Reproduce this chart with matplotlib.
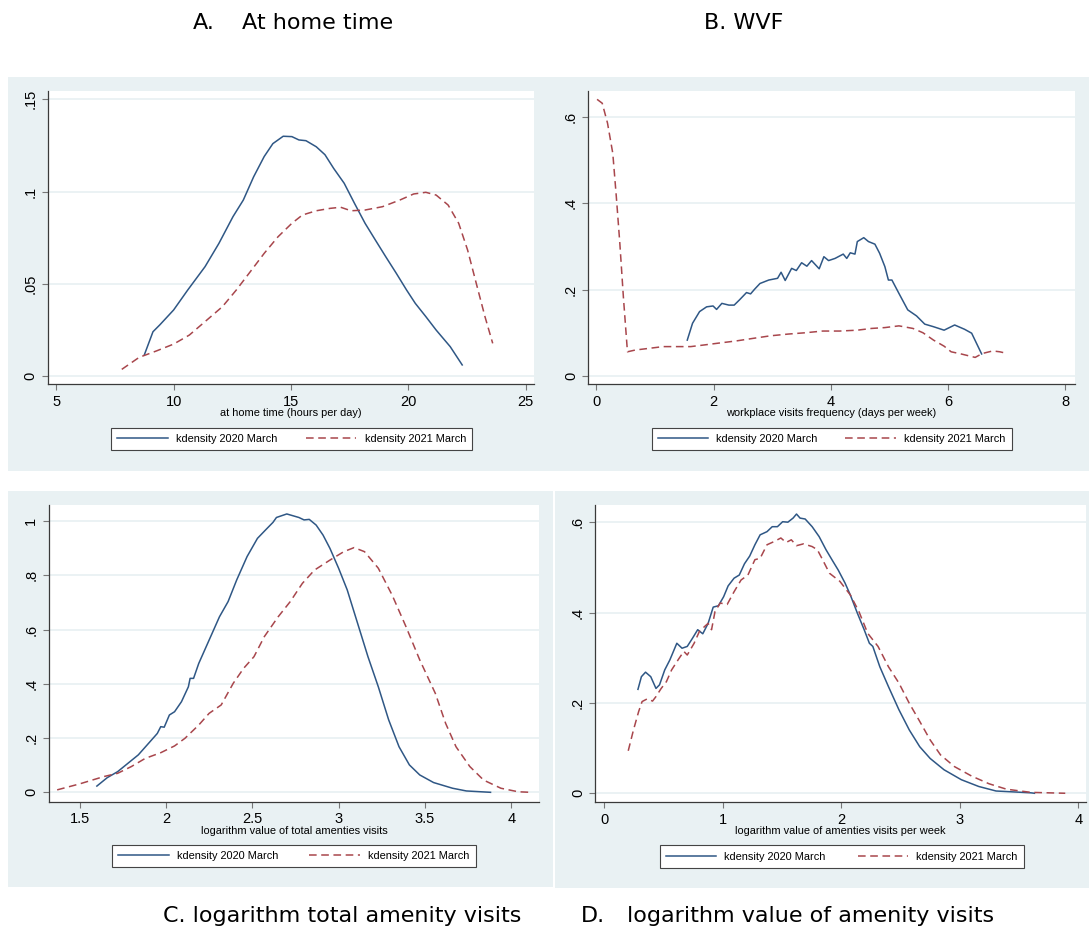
import matplotlib
matplotlib.use("Agg")
import matplotlib.pyplot as plt
from matplotlib.patches import Rectangle
from matplotlib.lines import Line2D

W, H = 1089, 935
BG = '#e9f1f3'
BLUE = '#2f5785'
RED = '#a8464c'

# A. at home time (hours per day)
home_x20 = [8.75, 9.12, 9.41, 10.0, 10.6, 11.34, 11.93, 12.53, 12.97, 13.41, 13.86, 14.23, 14.67,
            15.04, 15.34, 15.64, 16.08, 16.45, 16.82, 17.27, 17.71, 18.16, 18.6, 19.04, 19.49,
            19.93, 20.3, 20.75, 21.19, 21.79, 22.3]
home_y20 = [0.0114, 0.024, 0.0277, 0.0358, 0.0466, 0.0593, 0.0719, 0.0864, 0.0954, 0.108, 0.119,
            0.126, 0.130, 0.1298, 0.128, 0.1276, 0.1243, 0.120, 0.1126, 0.1045, 0.0936, 0.0828,
            0.0737, 0.0647, 0.0557, 0.0466, 0.0394, 0.0322, 0.0249, 0.0159, 0.006]
home_x21 = [7.79, 8.53, 9.27, 10.0, 10.67, 11.34, 12.08, 12.67, 13.27, 13.86, 14.45, 15.04, 15.49,
            16.08, 16.67, 17.12, 17.56, 18.16, 18.9, 19.64, 20.23, 20.75, 21.19, 21.7, 22.15,
            22.53, 22.9, 23.27, 23.6]
home_y21 = [0.0036, 0.0101, 0.0136, 0.0173, 0.0222, 0.0295, 0.0376, 0.0466, 0.0566, 0.0665, 0.0755,
            0.0828, 0.0873, 0.0896, 0.0909, 0.0915, 0.0896, 0.090, 0.0918, 0.0954, 0.0987, 0.0996,
            0.0981, 0.0927, 0.0828, 0.0683, 0.0502, 0.0322, 0.0177]

# B. workplace visits frequency (days per week)
wvf_x20 = [1.55, 1.64, 1.76, 1.88, 1.99, 2.05, 2.14, 2.26, 2.35, 2.44, 2.56, 2.63, 2.70, 2.79,
           2.94, 3.09, 3.15, 3.22, 3.33, 3.41, 3.50, 3.59, 3.67, 3.80, 3.88, 3.96, 4.07, 4.21,
           4.27, 4.33, 4.41, 4.45, 4.56, 4.64, 4.75, 4.83, 4.92, 4.98, 5.04, 5.16, 5.31, 5.46,
           5.60, 5.75, 5.93, 6.11, 6.28, 6.40, 6.57]
wvf_y20 = [0.083, 0.122, 0.149, 0.160, 0.162, 0.154, 0.168, 0.164, 0.164, 0.176, 0.193, 0.190,
           0.201, 0.214, 0.222, 0.226, 0.240, 0.221, 0.249, 0.244, 0.262, 0.254, 0.267, 0.248,
           0.276, 0.267, 0.272, 0.282, 0.272, 0.285, 0.282, 0.311, 0.320, 0.311, 0.305, 0.284,
           0.253, 0.222, 0.222, 0.191, 0.153, 0.139, 0.120, 0.114, 0.106, 0.118, 0.108, 0.099,
           0.051]
wvf_x21 = [0.012, 0.1, 0.19, 0.28, 0.34, 0.40, 0.46, 0.53, 0.66, 0.90, 1.14, 1.37, 1.61, 1.85,
           2.08, 2.38, 2.67, 2.97, 3.27, 3.56, 3.86, 4.15, 4.45, 4.69, 4.92, 5.16, 5.40, 5.57,
           5.75, 5.93, 6.05, 6.22, 6.46, 6.58, 6.76, 6.88, 7.01]
wvf_y21 = [0.640, 0.631, 0.585, 0.515, 0.415, 0.307, 0.184, 0.056, 0.060, 0.064, 0.068, 0.068,
           0.068, 0.072, 0.076, 0.081, 0.087, 0.093, 0.097, 0.100, 0.104, 0.104, 0.106, 0.110,
           0.112, 0.116, 0.110, 0.100, 0.083, 0.069, 0.056, 0.051, 0.043, 0.052, 0.058, 0.056,
           0.052]

# C. logarithm value of total amenities visits
tot_x20 = [1.60, 1.66, 1.72, 1.78, 1.84, 1.90, 1.95, 1.97, 1.99, 2.02, 2.05, 2.09, 2.13, 2.14,
           2.16, 2.19, 2.25, 2.31, 2.36, 2.41, 2.47, 2.53, 2.58, 2.62, 2.64, 2.70, 2.77, 2.80,
           2.83, 2.87, 2.91, 2.95, 3.00, 3.05, 3.11, 3.17, 3.23, 3.29, 3.35, 3.41, 3.47, 3.55,
           3.66, 3.74, 3.88]
tot_y20 = [0.023, 0.054, 0.076, 0.107, 0.138, 0.181, 0.217, 0.242, 0.240, 0.285, 0.297, 0.334,
           0.389, 0.420, 0.420, 0.475, 0.561, 0.647, 0.703, 0.783, 0.869, 0.936, 0.969, 0.995,
           1.013, 1.026, 1.013, 1.004, 1.006, 0.985, 0.948, 0.899, 0.826, 0.746, 0.623, 0.500,
           0.389, 0.267, 0.168, 0.101, 0.064, 0.036, 0.015, 0.005, 0.0]
tot_x21 = [1.37, 1.50, 1.64, 1.72, 1.80, 1.88, 1.97, 2.05, 2.11, 2.19, 2.25, 2.32, 2.39, 2.45,
           2.51, 2.57, 2.65, 2.72, 2.79, 2.86, 2.95, 3.03, 3.09, 3.15, 3.23, 3.31, 3.39, 3.47,
           3.56, 3.62, 3.68, 3.76, 3.84, 3.94, 4.04, 4.11]
tot_y21 = [0.009, 0.031, 0.058, 0.070, 0.095, 0.125, 0.146, 0.171, 0.199, 0.248, 0.291, 0.322,
           0.402, 0.457, 0.500, 0.574, 0.647, 0.703, 0.770, 0.819, 0.856, 0.887, 0.902, 0.887,
           0.826, 0.727, 0.611, 0.488, 0.365, 0.254, 0.168, 0.095, 0.045, 0.015, 0.002, 0.0]

# D. logarithm value of amenities visits per week
wk_x20 = [0.284, 0.313, 0.348, 0.392, 0.436, 0.466, 0.51, 0.553, 0.612, 0.656, 0.70, 0.744,
          0.788, 0.831, 0.876, 0.919, 0.963, 1.007, 1.045, 1.095, 1.139, 1.183, 1.227, 1.271,
          1.315, 1.373, 1.417, 1.461, 1.505, 1.549, 1.593, 1.622, 1.652, 1.695, 1.754, 1.813,
          1.871, 1.930, 1.974, 2.032, 2.076, 2.135, 2.193, 2.237, 2.266, 2.325, 2.398, 2.486,
          2.574, 2.662, 2.75, 2.867, 3.013, 3.16, 3.306, 3.60, 3.63]
wk_y20 = [0.230, 0.258, 0.268, 0.258, 0.232, 0.240, 0.273, 0.295, 0.332, 0.321, 0.325, 0.343,
          0.362, 0.353, 0.376, 0.412, 0.415, 0.435, 0.459, 0.476, 0.483, 0.508, 0.525, 0.550,
          0.572, 0.579, 0.590, 0.590, 0.601, 0.600, 0.609, 0.618, 0.609, 0.607, 0.590, 0.568,
          0.539, 0.513, 0.494, 0.465, 0.439, 0.399, 0.362, 0.332, 0.325, 0.280, 0.236, 0.185,
          0.140, 0.103, 0.077, 0.052, 0.030, 0.015, 0.005, 0.001, 0.0]
wk_x21 = [0.202, 0.246, 0.29, 0.319, 0.363, 0.407, 0.436, 0.48, 0.524, 0.568, 0.627, 0.671,
          0.70, 0.758, 0.802, 0.846, 0.876, 0.905, 0.934, 0.978, 1.037, 1.095, 1.154, 1.212,
          1.271, 1.315, 1.373, 1.432, 1.49, 1.534, 1.578, 1.622, 1.681, 1.754, 1.798, 1.842,
          1.90, 1.988, 2.076, 2.149, 2.223, 2.31, 2.398, 2.486, 2.574, 2.662, 2.75, 2.837,
          2.955, 3.10, 3.247, 3.394, 3.60, 3.89]
wk_y21 = [0.094, 0.140, 0.181, 0.203, 0.209, 0.204, 0.214, 0.232, 0.247, 0.273, 0.297, 0.314,
          0.306, 0.332, 0.358, 0.369, 0.376, 0.362, 0.402, 0.421, 0.418, 0.446, 0.472, 0.483,
          0.517, 0.520, 0.550, 0.557, 0.565, 0.555, 0.561, 0.548, 0.552, 0.546, 0.539, 0.517,
          0.487, 0.469, 0.439, 0.402, 0.354, 0.325, 0.280, 0.244, 0.199, 0.159, 0.118, 0.085,
          0.059, 0.038, 0.021, 0.009, 0.002, 0.0]

legend_labels = ['kdensity 2020 March', 'kdensity 2021 March']

plt.rcParams['font.family'] = ['Liberation Sans', 'DejaVu Sans']

fig = plt.figure(figsize=(W / 100, H / 100), dpi=100)


def fx(px):
    return px / W


def fy(py):
    return 1 - py / H


def box(l, t, r, b):
    return [fx(l), fy(b), fx(r) - fx(l), fy(t) - fy(b)]


# light graph-region backgrounds, kept behind the axes
for l, t, r, b in [(8, 77, 1089, 471), (8, 491, 553.5, 887), (555, 491, 1089, 888)]:
    fig.patches.append(Rectangle((fx(l), fy(b)), fx(r) - fx(l), fy(t) - fy(b),
                                 transform=fig.transFigure, facecolor=BG, edgecolor='none',
                                 zorder=-5))

panels = [
    dict(rect=(48, 90.7, 534, 384.3), x20=home_x20, y20=home_y20, x21=home_x21, y21=home_y21,
         xlim=(4.646, 25.36), ylim=(-0.0045, 0.1547), xticks=[5, 10, 15, 20, 25], xtl=None,
         yticks=[0, 0.05, 0.1, 0.15], ytl=['0', '.05', '.1', '.15'],
         xlabel='at home time (hours per day)', leg=(111, 426.7, 472, 451.3)),
    dict(rect=(588.4, 90.7, 1074.8, 384.3), x20=wvf_x20, y20=wvf_y20, x21=wvf_x21, y21=wvf_y21,
         xlim=(-0.136, 8.159), ylim=(-0.0192, 0.660), xticks=[0, 2, 4, 6, 8], xtl=None,
         yticks=[0, 0.2, 0.4, 0.6], ytl=['0', '.2', '.4', '.6'],
         xlabel='workplace visits frequency (days per week)', leg=(651.5, 427, 1011.5, 451.5)),
    dict(rect=(48.7, 505, 539.4, 801.7), x20=tot_x20, y20=tot_y20, x21=tot_x21, y21=tot_y21,
         xlim=(1.321, 4.163), ylim=(-0.0346, 1.059), xticks=[1.5, 2, 2.5, 3, 3.5, 4],
         xtl=['1.5', '2', '2.5', '3', '3.5', '4'],
         yticks=[0, 0.2, 0.4, 0.6, 0.8, 1], ytl=['0', '.2', '.4', '.6', '.8', '1'],
         xlabel='logarithm value of total amenties visits', leg=(112, 843.3, 475.5, 868.3)),
    dict(rect=(595.3, 505, 1086, 802.3), x20=wk_x20, y20=wk_y20, x21=wk_x21, y21=wk_y21,
         xlim=(-0.076, 4.065), ylim=(-0.02, 0.638), xticks=[0, 1, 2, 3, 4], xtl=None,
         yticks=[0, 0.2, 0.4, 0.6], ytl=['0', '.2', '.4', '.6'],
         xlabel='logarithm value of amenties visits per week', leg=(659.5, 844, 1023.8, 869)),
]

for p in panels:
    l, t, r, b = p['rect']
    ax = fig.add_axes(box(l, t, r, b))
    ax.set_facecolor('white')
    ax.plot(p['x20'], p['y20'], color=BLUE, lw=1.1, solid_joinstyle='round')
    ax.plot(p['x21'], p['y21'], color=RED, lw=1.1, dashes=(5, 3))
    ax.set_xlim(*p['xlim'])
    ax.set_ylim(*p['ylim'])
    ax.set_xticks(p['xticks'])
    if p['xtl'] is not None:
        ax.set_xticklabels(p['xtl'])
    ax.set_yticks(p['yticks'])
    ax.set_yticklabels(p['ytl'])
    for lbl in ax.get_yticklabels():
        lbl.set_rotation(90)
        lbl.set_va('center')
    ax.grid(axis='y', color=BG, lw=1.3)
    ax.set_axisbelow(True)
    for s in ['top', 'right']:
        ax.spines[s].set_visible(False)
    for s in ['left', 'bottom']:
        ax.spines[s].set_color('#3a3a3a')
        ax.spines[s].set_linewidth(0.9)
    ax.tick_params(length=4, width=0.8, color='#777777', labelsize=10.5, pad=3.5)
    ax.set_xlabel(p['xlabel'], fontsize=7.9)
    ax.xaxis.set_label_coords(0.5, -29 / (b - t))
    ax.xaxis.label.set_va('center')

    handles = [Line2D([], [], color=BLUE, lw=1.1), Line2D([], [], color=RED, lw=1.1, dashes=(5, 3))]
    ll, lt, lr, lb = p['leg']
    leg = ax.legend(handles, legend_labels, ncol=2, loc='center', mode='expand',
                    bbox_to_anchor=box(ll, lt, lr, lb), bbox_transform=fig.transFigure,
                    fontsize=7.9, handlelength=4.6, handletextpad=0.75, borderaxespad=0,
                    borderpad=0.55, frameon=True, fancybox=False, framealpha=1)
    leg.get_frame().set_edgecolor('#444444')
    leg.get_frame().set_linewidth(0.8)

title_font = dict(family=['DejaVu Sans'], fontsize=16, va='baseline', ha='left')
fig.text(fx(192.4), fy(29.3), 'A.', **title_font)
fig.text(fx(241.5), fy(29.3), 'At home time', **title_font)
fig.text(fx(703.6), fy(29.3), 'B. WVF', **title_font)
fig.text(fx(163), fy(921.5), 'C. logarithm total amenity visits', **title_font)
fig.text(fx(581), fy(921.5), 'D.', **title_font)
fig.text(fx(627), fy(921.5), 'logarithm value of amenity visits', **title_font)

fig.savefig('out.png', dpi=100)
